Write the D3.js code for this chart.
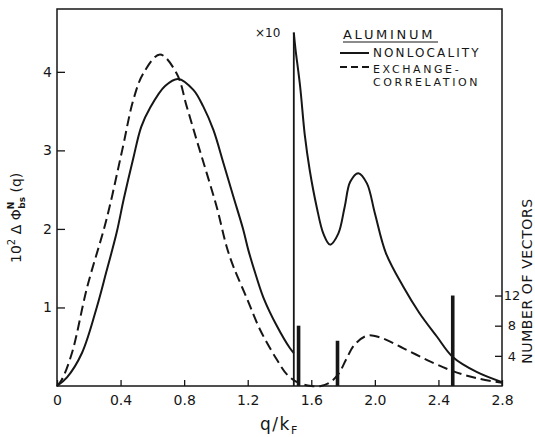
<!DOCTYPE html>
<html>
<head>
<meta charset="utf-8">
<script src="https://cdn.jsdelivr.net/npm/d3@7"></script>
<style>
  body { margin: 0; background: #fff; }
  svg { display: block; }
  text { font-family: "DejaVu Sans", sans-serif; fill: #161616; }
</style>
</head>
<body>
<script>
// nonlocality curve, plotted as is up to the x10 mark
const nonlocalQ = [0, 0.063, 0.157, 0.25, 0.31, 0.375, 0.42, 0.48, 0.53, 0.585, 0.68, 0.763, 0.858, 0.92, 0.984, 1.047, 1.11, 1.172, 1.204, 1.25, 1.30, 1.382, 1.466, 1.49];
const nonlocalV = [0, 0.11, 0.42, 1.0, 1.45, 1.95, 2.38, 2.9, 3.3, 3.54, 3.82, 3.91, 3.77, 3.56, 3.26, 2.84, 2.41, 1.99, 1.73, 1.42, 1.12, 0.77, 0.48, 0.42];

// nonlocality beyond the x10 mark (values times ten)
const nonlocalX10Q = [1.49, 1.50, 1.53, 1.56, 1.59, 1.634, 1.676, 1.718, 1.77, 1.81, 1.845, 1.896, 1.95, 2.0, 2.07, 2.18, 2.28, 2.39, 2.49, 2.64, 2.8];
const nonlocalX10V = [4.5, 4.3, 3.81, 3.18, 2.75, 2.28, 1.94, 1.80, 1.94, 2.28, 2.6, 2.71, 2.58, 2.2, 1.69, 1.26, 0.93, 0.63, 0.37, 0.18, 0.05];

// exchange-correlation curve
const exchangeQ = [0, 0.03, 0.094, 0.19, 0.31, 0.41, 0.48, 0.543, 0.648, 0.753, 0.816, 0.879, 0.942, 1.005, 1.068, 1.11, 1.194, 1.277, 1.382, 1.45, 1.52, 1.6, 1.66, 1.72, 1.77, 1.82, 1.87, 1.95, 2.03, 2.18, 2.35, 2.49, 2.64, 2.8];
const exchangeV = [0, 0.08, 0.42, 1.26, 2.11, 3.0, 3.64, 3.98, 4.22, 3.98, 3.56, 3.13, 2.71, 2.28, 1.77, 1.52, 1.12, 0.72, 0.34, 0.14, 0.04, 0.0, 0.0, 0.05, 0.15, 0.34, 0.52, 0.64, 0.62, 0.48, 0.31, 0.19, 0.10, 0.04];

// reciprocal lattice vectors
const vectorQ = [1.52, 1.765, 2.49];
const vectorCount = [8, 6, 12];

const xTicks = [0, 0.4, 0.8, 1.2, 1.6, 2.0, 2.4, 2.8];
const yTicks = [1, 2, 3, 4];
const vecTicks = [4, 8, 12];
const x10Q = 1.49;

const width = 535, height = 437;
const margin = {top: 9, right: 33, bottom: 51, left: 57};

const svg = d3.select("body").append("svg")
  .attr("width", width)
  .attr("height", height);

const x = d3.scaleLinear().domain([0, 2.8]).range([margin.left, width - margin.right]);
const y = d3.scaleLinear().domain([0, 4.8]).range([height - margin.bottom, margin.top]);
const yVec = d3.scaleLinear().domain([0, 50]).range([height - margin.bottom, margin.top]);

const ink = "#161616";

// axes, ticks point into the plot
const xAxis = svg.append("g")
  .attr("transform", `translate(0,${y(0)})`)
  .call(d3.axisBottom(x).tickValues(xTicks).tickSize(-6).tickPadding(9)
    .tickFormat(d => d === 0 ? "0" : d3.format(".1f")(d)));

const yAxis = svg.append("g")
  .attr("transform", `translate(${x(0)},0)`)
  .call(d3.axisLeft(y).tickValues(yTicks).tickSize(-8).tickPadding(5).tickFormat(d3.format("d")));

const vAxis = svg.append("g")
  .attr("transform", `translate(${x(2.8)},0)`)
  .call(d3.axisRight(yVec).tickValues(vecTicks).tickSize(-7).tickPadding(10).tickFormat(d3.format("d")));
vAxis.selectAll("text").attr("text-anchor", "middle");

[xAxis, yAxis, vAxis].forEach(g => {
  g.select(".domain").remove();
  g.selectAll("line").attr("stroke", ink).attr("stroke-width", 1.3);
  g.selectAll("text").style("font-family", "'DejaVu Sans', sans-serif")
    .style("font-size", "14px").attr("fill", ink);
});
vAxis.selectAll("text").style("font-size", "13px");

// frame
svg.append("rect")
  .attr("x", x(0)).attr("y", y(4.8))
  .attr("width", x(2.8) - x(0)).attr("height", y(0) - y(4.8))
  .attr("fill", "none").attr("stroke", ink).attr("stroke-width", 1.5);

const line = d3.line()
  .x(d => x(d[0])).y(d => y(d[1]))
  .curve(d3.curveCatmullRom.alpha(0.5));

svg.append("path")
  .datum(d3.zip(nonlocalQ, nonlocalV))
  .attr("d", line)
  .attr("fill", "none").attr("stroke", ink).attr("stroke-width", 2);

svg.append("path")
  .datum(d3.zip(nonlocalX10Q, nonlocalX10V))
  .attr("d", line)
  .attr("fill", "none").attr("stroke", ink).attr("stroke-width", 2);

svg.append("path")
  .datum(d3.zip(exchangeQ, exchangeV))
  .attr("d", line)
  .attr("fill", "none").attr("stroke", ink).attr("stroke-width", 2)
  .attr("stroke-dasharray", "10,5");

// vertical line where the x10 scale starts
svg.append("line")
  .attr("x1", x(x10Q)).attr("x2", x(x10Q))
  .attr("y1", y(0)).attr("y2", y(nonlocalX10V[0]))
  .attr("stroke", ink).attr("stroke-width", 1.8);

// number of vectors bars
svg.selectAll(".vec")
  .data(d3.zip(vectorQ, vectorCount))
  .enter()
  .append("rect")
  .attr("class", "vec")
  .attr("x", d => x(d[0]) - 1.8)
  .attr("width", 3.6)
  .attr("y", d => yVec(d[1]))
  .attr("height", d => yVec(0) - yVec(d[1]))
  .attr("fill", ink);

// x10 mark
svg.append("text")
  .attr("x", 255).attr("y", 37)
  .style("font-size", "12px")
  .text("×10");

// legend
const legend = svg.append("g");
legend.append("text")
  .attr("x", 343).attr("y", 39)
  .style("font-size", "13px").style("letter-spacing", "2.7px")
  .text("ALUMINUM");
legend.append("line")
  .attr("x1", 343).attr("x2", 438).attr("y1", 42).attr("y2", 42)
  .attr("stroke", ink).attr("stroke-width", 1);

legend.append("line")
  .attr("x1", 340).attr("x2", 369).attr("y1", 53).attr("y2", 53)
  .attr("stroke", ink).attr("stroke-width", 2);
legend.append("line")
  .attr("x1", 340).attr("x2", 369).attr("y1", 67).attr("y2", 67)
  .attr("stroke", ink).attr("stroke-width", 2).attr("stroke-dasharray", "7,4");

legend.append("text")
  .attr("x", 373).attr("y", 57)
  .style("font-size", "12px").style("letter-spacing", "2.1px")
  .text("NONLOCALITY");

legend.append("text")
  .attr("x", 373).attr("y", 73)
  .style("font-size", "11px").style("letter-spacing", "2.6px")
  .text("EXCHANGE-");
legend.append("text")
  .attr("x", 373).attr("y", 86)
  .style("font-size", "11px").style("letter-spacing", "2.6px")
  .text("CORRELATION");

// x label
const xl = svg.append("text")
  .attr("x", 260).attr("y", 430)
  .style("font-size", "17px").style("letter-spacing", "1.5px");
xl.append("tspan").text("q/k");
xl.append("tspan").attr("dy", 4).style("font-size", "11px").text("F");

// y label
const yl = svg.append("text")
  .attr("transform", `translate(21,263) rotate(-90)`)
  .style("font-size", "14px");
yl.append("tspan").text("10");
yl.append("tspan").attr("dy", -6).style("font-size", "10px").text("2");
yl.append("tspan").attr("dy", 6).text(" Δ Φ");
yl.append("tspan").attr("dy", -7).style("font-size", "9px").style("font-weight", "bold").text("N");
yl.append("tspan").attr("dx", -7).attr("dy", 11).style("font-size", "9px").style("font-weight", "bold").text("bs");
yl.append("tspan").attr("dy", -4).text(" (q)");

// right label
svg.append("text")
  .attr("transform", `translate(532,281) rotate(-90)`)
  .attr("text-anchor", "middle")
  .style("font-size", "14px").style("letter-spacing", "0.6px")
  .text("NUMBER OF VECTORS");
</script>
</body>
</html>
